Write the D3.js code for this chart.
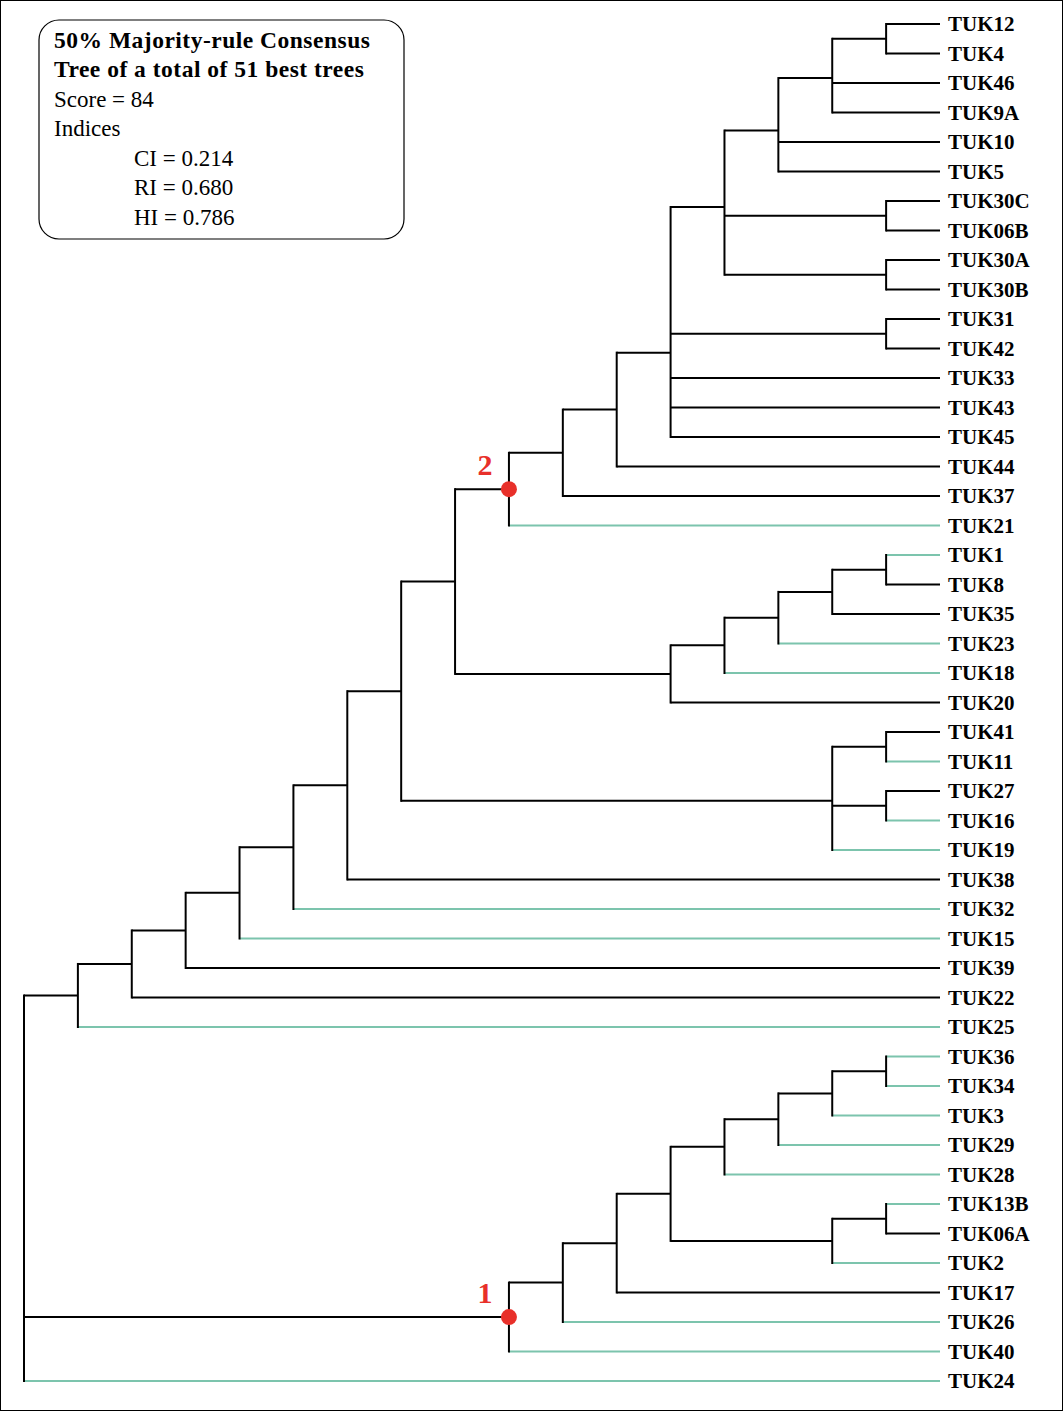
<!DOCTYPE html>
<html><head><meta charset="utf-8">
<script src="https://cdn.jsdelivr.net/npm/d3@7"></script>
<style>body{margin:0;background:#fff}</style>
</head><body><svg id="c" width="1063" height="1411"></svg>
<script>
const leaves = ["TUK12","TUK4","TUK46","TUK9A","TUK10","TUK5","TUK30C","TUK06B","TUK30A","TUK30B","TUK31","TUK42","TUK33","TUK43","TUK45","TUK44","TUK37","TUK21","TUK1","TUK8","TUK35","TUK23","TUK18","TUK20","TUK41","TUK11","TUK27","TUK16","TUK19","TUK38","TUK32","TUK15","TUK39","TUK22","TUK25","TUK36","TUK34","TUK3","TUK29","TUK28","TUK13B","TUK06A","TUK2","TUK17","TUK26","TUK40","TUK24"];
const greenLeaves = ["TUK21","TUK1","TUK23","TUK18","TUK11","TUK16","TUK19","TUK32","TUK15","TUK25","TUK36","TUK34","TUK3","TUK29","TUK28","TUK13B","TUK2","TUK26","TUK40","TUK24"];
const infoLines = ["50% Majority-rule Consensus","Tree of a total of 51 best trees","Score = 84","Indices","CI = 0.214","RI = 0.680","HI = 0.786"];
const markedNodes = [{label:"1",id:"n1"},{label:"2",id:"n2"}];
const n=(d,id,...c)=>({depth:d,id,children:c});
const tree = n(0,"root",
  n(1,"",n(2,"",n(3,"",n(4,"",n(5,"",n(6,"",n(7,"",
    n(8,"",
      n(9,"n2",n(10,"",n(11,"",n(12,"",
          n(13,"",n(14,"",n(15,"",n(16,"","TUK12","TUK4"),"TUK46","TUK9A"),"TUK10","TUK5"),
                  n(16,"","TUK30C","TUK06B"),n(16,"","TUK30A","TUK30B")),
          n(16,"","TUK31","TUK42"),"TUK33","TUK43","TUK45"),"TUK44"),"TUK37"),"TUK21"),
      n(12,"",n(13,"",n(14,"",n(15,"",n(16,"","TUK1","TUK8"),"TUK35"),"TUK23"),"TUK18"),"TUK20")),
    n(15,"",n(16,"","TUK41","TUK11"),n(16,"","TUK27","TUK16"),"TUK19")),
  "TUK38"),"TUK32"),"TUK15"),"TUK39"),"TUK22"),"TUK25"),
  n(9,"n1",n(10,"",n(11,"",n(12,"",
      n(13,"",n(14,"",n(15,"",n(16,"","TUK36","TUK34"),"TUK3"),"TUK29"),"TUK28"),
      n(15,"",n(16,"","TUK13B","TUK06A"),"TUK2")),"TUK17"),"TUK26"),"TUK40"),
  "TUK24");

const svg=d3.select("#c");
svg.append("rect").attr("x",0.5).attr("y",0.5).attr("width",1062).attr("height",1410).attr("fill","none").attr("stroke","#000");
const y=d3.scalePoint().domain(leaves).range([24,1381]);
const x=d3.scaleLinear().domain([0,17]).range([24,940]);
const GREEN="#7cc4ad";
const nodes={};
function layout(t){
  if(typeof t==="string") return {name:t,x:x(17),y:y(t),leaf:true};
  const ch=t.children.map(layout);
  const o={x:x(t.depth),y:d3.mean(ch,c=>c.y),ch,id:t.id};
  nodes[t.id]=o; return o;
}
const root=layout(tree);
const gh=svg.append("g"), gv=svg.append("g");
function draw(nd){
  if(nd.leaf) return;
  gv.append("path").attr("d",`M${nd.x},${d3.min(nd.ch,c=>c.y)}V${d3.max(nd.ch,c=>c.y)}`)
    .attr("stroke","#000").attr("stroke-width",2).attr("stroke-linecap","square");
  nd.ch.forEach(c=>{
    const col=(c.leaf&&greenLeaves.includes(c.name))?GREEN:"#000";
    gh.append("path").attr("d",`M${nd.x},${c.y}H${c.x}`).attr("fill","none").attr("stroke",col).attr("stroke-width",2);
    draw(c);
  });
}
draw(root);
svg.append("g").selectAll("text").data(leaves).join("text")
  .attr("x",948).attr("y",d=>y(d)+7).text(d=>d)
  .attr("font-family","Liberation Serif, serif").attr("font-weight","bold").attr("font-size",21);
markedNodes.forEach(m=>{
  const nd=nodes[m.id];
  svg.append("circle").attr("cx",nd.x).attr("cy",nd.y).attr("r",8).attr("fill","#e8302a");
  svg.append("text").attr("x",nd.x-24).attr("y",nd.y-14).attr("text-anchor","middle").text(m.label)
    .attr("fill","#e8302a").attr("font-family","Liberation Serif, serif").attr("font-weight","bold").attr("font-size",30);
});
svg.append("rect").attr("x",39).attr("y",20).attr("width",365).attr("height",219).attr("rx",20)
  .attr("fill","#fff").attr("stroke","#000").attr("stroke-width",1.2);
const ys=[48,77,107,136,166,195,225];
infoLines.forEach((t,i)=>{
  svg.append("text").attr("x",i>=4?134:54).attr("y",ys[i]).text(t)
    .attr("font-family","Liberation Serif, serif").attr("font-size",i<2?23.5:23)
    .attr("letter-spacing",i<2?0.5:0)
    .attr("font-weight",i<2?"bold":"normal");
});
</script></body></html>
